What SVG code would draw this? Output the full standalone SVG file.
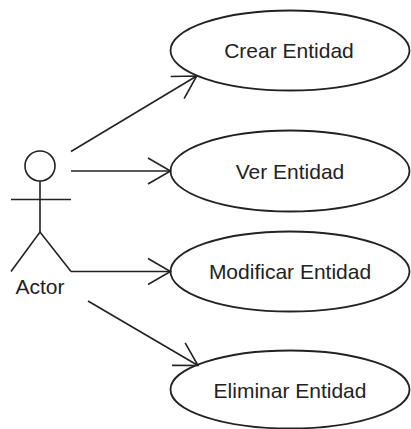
<svg xmlns="http://www.w3.org/2000/svg" width="411" height="429" viewBox="0 0 411 429">
<style>
.uc{fill:#fff;stroke:#222;stroke-width:1.8}
.lbl{font-family:"Liberation Sans",Arial,sans-serif;font-size:21px;fill:#222;text-anchor:middle}
.ln{fill:none;stroke:#222;stroke-width:1.6}
</style>
<defs>
<marker id="arr" markerUnits="userSpaceOnUse" markerWidth="40" markerHeight="40" refX="0" refY="0" orient="auto" overflow="visible" viewBox="-30 -20 40 40">
<path d="M-22.5,-13 L0,0 L-22.5,13" fill="none" stroke="#222" stroke-width="1.6"/>
</marker>
</defs>
<rect width="411" height="429" fill="#fff"/>
<g id="actor">
<circle cx="40" cy="166" r="15" fill="#fff" stroke="#222" stroke-width="1.6"/>
<line class="ln" x1="40" y1="181" x2="40" y2="232"/>
<line class="ln" x1="11" y1="199.5" x2="71" y2="199.5"/>
<polyline class="ln" points="11,271.5 40,232 71,271.5"/>
<text class="lbl" x="40" y="294">Actor</text>
</g>
<g id="uc-crear">
<ellipse class="uc" cx="290" cy="50.5" rx="119.5" ry="40"/>
<text class="lbl" x="289" y="58.3">Crear Entidad</text>
</g>
<g id="uc-ver">
<ellipse class="uc" cx="290" cy="171" rx="119.5" ry="40.5"/>
<text class="lbl" x="290" y="178.5">Ver Entidad</text>
</g>
<g id="uc-modificar">
<ellipse class="uc" cx="290" cy="271.5" rx="119.5" ry="40"/>
<text class="lbl" x="290" y="279.3">Modificar Entidad</text>
</g>
<g id="uc-eliminar">
<ellipse class="uc" cx="290" cy="389.5" rx="119.5" ry="39"/>
<text class="lbl" x="290" y="398.3">Eliminar Entidad</text>
</g>
<g id="connectors">
<line class="ln" x1="71" y1="151.5" x2="196.7" y2="76" marker-end="url(#arr)"/>
<line class="ln" x1="71" y1="171" x2="170.5" y2="171" marker-end="url(#arr)"/>
<line class="ln" x1="71" y1="271.5" x2="170.5" y2="271.5" marker-end="url(#arr)"/>
<line class="ln" x1="88" y1="301" x2="198" y2="365.5" marker-end="url(#arr)"/>
</g>
</svg>
